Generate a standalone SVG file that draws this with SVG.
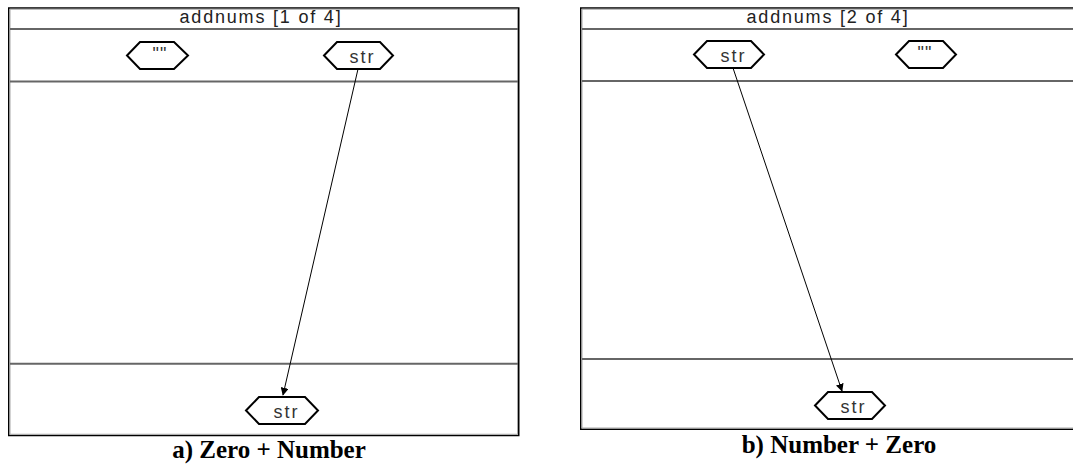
<svg xmlns="http://www.w3.org/2000/svg" width="1073" height="466" viewBox="0 0 1073 466">
  <style>
    .frame { fill: #fff; stroke: #000; stroke-width: 1.5; }
    .inner { fill: none; stroke: #a8a8a8; stroke-width: 1; }
    .divider { stroke: #666; stroke-width: 2; }
    .title { font-family: "Liberation Sans", Arial, sans-serif; font-size: 18px; letter-spacing: 1.8px; fill: #222; text-anchor: middle; }
    .hex { fill: #fff; stroke: #000; stroke-width: 2; stroke-linejoin: miter; }
    .lbl { font-family: "Liberation Sans", Arial, sans-serif; font-size: 18px; letter-spacing: 2px; fill: #333; text-anchor: middle; }
    .quote { font-family: "Liberation Sans", Arial, sans-serif; font-size: 18px; letter-spacing: 1px; fill: #333; text-anchor: middle; }
    .edge { fill: none; stroke: #000; stroke-width: 1; }
    .caption { font-family: "Liberation Serif", "Times New Roman", serif; font-weight: bold; font-size: 25px; fill: #000; text-anchor: middle; }
  </style>
  <defs>
    <marker id="arrow" viewBox="0 0 10 10" refX="9" refY="5" markerWidth="8" markerHeight="8" markerUnits="userSpaceOnUse" orient="auto">
      <path d="M0,0 L10,5 L0,10 z" fill="#000"/>
    </marker>
  </defs>

  <!-- panel a: frame, title bar, input / body / output bands -->
  <g id="panel-a">
    <rect class="frame" x="8.75" y="8" width="510" height="427.5"/>
    <rect class="inner" x="10" y="9.25" width="507.5" height="425"/>
    <line class="divider" x1="10" y1="29" x2="518" y2="29"/>
    <line class="divider" x1="10" y1="81.5" x2="518" y2="81.5"/>
    <line class="divider" x1="10" y1="363.7" x2="518" y2="363.7"/>
    <text class="title" x="261" y="23">addnums [1 of 4]</text>
  </g>
  <g id="a-empty">
    <polygon class="hex" points="127,55.5 140,42 174,42 188,55.5 174,69 140,69"/>
    <text class="quote" x="160" y="59.5">""</text>
  </g>
  <g id="a-str-in">
    <polygon class="hex" points="324,55.5 337,42 380,42 393,55.5 380,69 337,69"/>
    <text class="lbl" x="362.5" y="63">str</text>
  </g>
  <g id="a-str-out">
    <polygon class="hex" points="246,410.5 259,397 305,397 318,410.5 305,424 259,424"/>
    <text class="lbl" x="286.5" y="418">str</text>
  </g>

  <!-- panel b: frame runs off the right edge -->
  <g id="panel-b">
    <rect class="frame" x="580.75" y="8" width="500" height="421.25"/>
    <rect class="inner" x="582" y="9.25" width="497" height="418.75"/>
    <line class="divider" x1="582" y1="29" x2="1073" y2="29"/>
    <line class="divider" x1="582" y1="81" x2="1073" y2="81"/>
    <line class="divider" x1="582" y1="359" x2="1073" y2="359"/>
    <text class="title" x="828" y="23">addnums [2 of 4]</text>
  </g>
  <g id="b-str-in">
    <polygon class="hex" points="694,54.5 707,41 751,41 764,54.5 751,68 707,68"/>
    <text class="lbl" x="733.5" y="62">str</text>
  </g>
  <g id="b-empty">
    <polygon class="hex" points="896,54.5 909,41 943,41 956,54.5 943,68 909,68"/>
    <text class="quote" x="925" y="58.5">""</text>
  </g>
  <g id="b-str-out">
    <polygon class="hex" points="815,405.5 828,392 872,392 885,405.5 872,419 828,419"/>
    <text class="lbl" x="853.5" y="412.7">str</text>
  </g>

  <!-- connectors -->
  <g id="connectors">
    <line class="edge" x1="358" y1="69" x2="283" y2="395" marker-end="url(#arrow)"/>
    <line class="edge" x1="733" y1="68" x2="842" y2="391" marker-end="url(#arrow)"/>
  </g>

  <!-- captions -->
  <text class="caption" x="269" y="458">a) Zero + Number</text>
  <text class="caption" x="839" y="452.5">b) Number + Zero</text>
</svg>
